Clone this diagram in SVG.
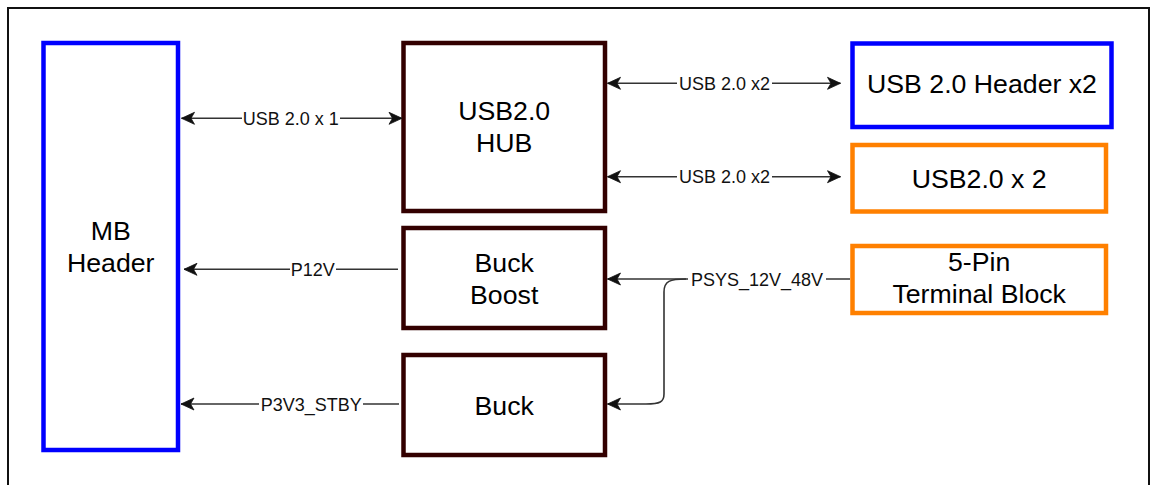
<svg xmlns="http://www.w3.org/2000/svg" width="1156" height="485" viewBox="0 0 1156 485">
<style>
.frame{fill:none;stroke:#111;stroke-width:2}
.blue{fill:#fff;stroke:#0000FF;stroke-width:4.5}
.brown{fill:#fff;stroke:#330000;stroke-width:4.5}
.orange{fill:#fff;stroke:#FF8000;stroke-width:4.5}
.t{font-family:"Liberation Sans",Arial,sans-serif;font-size:26.7px;fill:#000;text-anchor:middle}
.lbl{font-family:"Liberation Sans",Arial,sans-serif;font-size:18px;fill:#111;text-anchor:middle}
.e{fill:none;stroke:#333;stroke-width:1.6}
.bg{fill:#fff}
</style>
<defs>
<marker id="arr" markerUnits="userSpaceOnUse" viewBox="-14 -7 15 14" refX="0" refY="0" markerWidth="15" markerHeight="14" orient="auto-start-reverse">
<path d="M0,0 L-13,-6 L-9.5,0 L-13,6 Z" fill="#111" stroke="#111" stroke-width="0.8" stroke-linejoin="miter"/>
</marker>
</defs>
<rect class="frame" x="8" y="8" width="1141" height="500"/>
<g id="mb-header">
<rect class="blue" x="43.5" y="43" width="134.5" height="407"/>
<text class="t" x="110.7" y="240">MB</text>
<text class="t" x="110.7" y="272">Header</text>
</g>
<g id="usb-hub">
<rect class="brown" x="403.5" y="43" width="201.5" height="168"/>
<text class="t" x="504.2" y="119.5">USB2.0</text>
<text class="t" x="504.2" y="151.5">HUB</text>
</g>
<g id="buck-boost">
<rect class="brown" x="403.5" y="228" width="201.5" height="100"/>
<text class="t" x="504.2" y="271.5">Buck</text>
<text class="t" x="504.2" y="303.5">Boost</text>
</g>
<g id="buck">
<rect class="brown" x="403.5" y="355" width="201.5" height="100"/>
<text class="t" x="504.2" y="414.5">Buck</text>
</g>
<g id="usb-header-x2">
<rect class="blue" x="852.5" y="43.5" width="259" height="83.5"/>
<text class="t" x="982" y="93">USB 2.0 Header x2</text>
</g>
<g id="usb20-x2">
<rect class="orange" x="852.5" y="145" width="253.5" height="66.5"/>
<text class="t" x="979.2" y="188">USB2.0 x 2</text>
</g>
<g id="terminal-block">
<rect class="orange" x="852.5" y="246" width="253.5" height="67"/>
<text class="t" x="979.2" y="271.3">5-Pin</text>
<text class="t" x="979.2" y="303">Terminal Block</text>
</g>
<g id="connectors">
<path class="e" d="M181.5 118.3 L402 118.3" marker-start="url(#arr)" marker-end="url(#arr)"/>
<rect class="bg" x="242" y="108" width="98" height="20"/>
<text class="lbl" x="290.8" y="124.8">USB 2.0 x 1</text>

<path class="e" d="M607.5 83.3 L840.5 83.3" marker-start="url(#arr)" marker-end="url(#arr)"/>
<rect class="bg" x="677" y="73" width="95" height="20"/>
<text class="lbl" x="724.5" y="89.8">USB 2.0 x2</text>

<path class="e" d="M607.5 176.7 L840.5 176.7" marker-start="url(#arr)" marker-end="url(#arr)"/>
<rect class="bg" x="677" y="166.5" width="95" height="20"/>
<text class="lbl" x="724.5" y="183.2">USB 2.0 x2</text>

<path class="e" d="M398 269.3 L184 269.3" marker-end="url(#arr)"/>
<rect class="bg" x="290" y="259" width="46" height="20"/>
<text class="lbl" x="312.8" y="275.8">P12V</text>

<path class="e" d="M399 404 L181 404" marker-end="url(#arr)"/>
<rect class="bg" x="259" y="394" width="104" height="20"/>
<text class="lbl" x="311.3" y="410.5">P3V3_STBY</text>

<path class="e" d="M850 279 L607.5 279" marker-end="url(#arr)"/>
<path class="e" d="M686 279 C670 279 664 281 664 292 L664 394 C664 402 660 404 646 404 L607.5 404" marker-end="url(#arr)"/>
<rect class="bg" x="688" y="269" width="138" height="20"/>
<text class="lbl" x="757" y="285.5">PSYS_12V_48V</text>
</g>
</svg>
